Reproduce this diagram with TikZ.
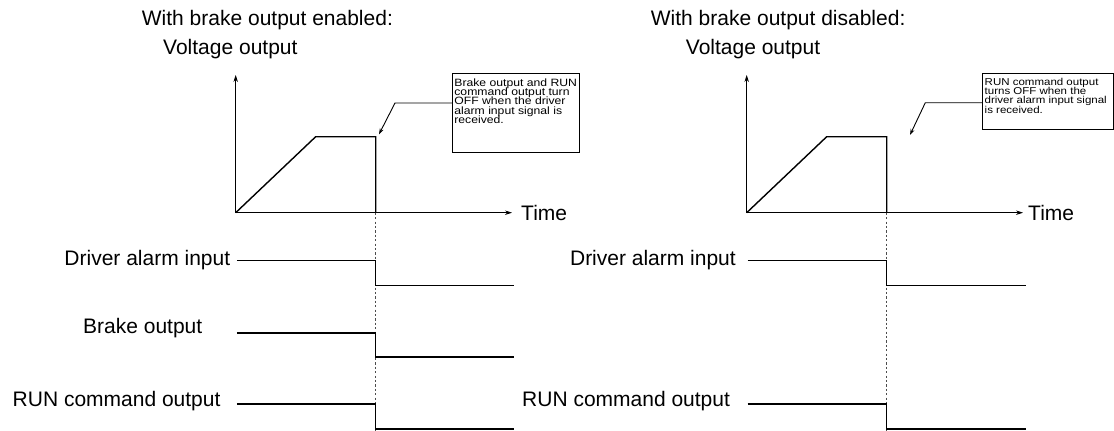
\documentclass[tikz,border=0pt]{standalone}
\usepackage{fontspec}
\setmainfont{Liberation Sans}
\newfontfamily\notefont[FakeStretch=1.15]{Liberation Sans}
\usetikzlibrary{arrows.meta}

\begin{document}
\begin{tikzpicture}[x=1pt, y=-1pt,
    lbl/.style={font=\fontsize{21}{25}\selectfont, inner sep=0pt},
    axis/.style={line width=0.9pt, -{Stealth[length=7pt, width=4.5pt]}},
    curve/.style={line width=1.4pt, line join=miter},
    sig/.style={line width=1.3pt},
    cutline/.style={line width=0.7pt, black!70, dash pattern=on 2.2pt off 2.2pt},
    note/.style={draw, line width=0.8pt, inner xsep=2pt, inner ysep=4pt, anchor=north west},
    leader/.style={line width=0.9pt, -{Stealth[length=6pt, width=4pt]}}]
    \useasboundingbox (0,0) rectangle (1114,431);

    % left: with brake output enabled
    \node[lbl, anchor=base west] (titleA) at (141.7,25.5) {With brake output enabled:};
    \node[lbl, anchor=base west] (voltA) at (163,54) {Voltage output};
    \draw[axis] (235.7,212.7) -- (235.7,75);
    \draw[axis] (235.7,212.7) -- (512,212.7);
    \node[lbl, anchor=base west] (timeA) at (521,220) {Time};
    \draw[curve] (235.7,212.7) -- (315.7,136.7) -- (375.7,136.7) -- (375.7,212.7);
    \draw[cutline] (375.7,212.7) -- (375.7,431);
    \node[note] (noteA) at (452,73) {\parbox[t][70.7pt][t]{123pt}{\vspace*{1.5pt}\raggedright
      \notefont\fontsize{10.6}{9.2}\selectfont\lineskiplimit=-20pt
      \mbox{Brake output and RUN}\\ \mbox{command output turn}\\ \mbox{OFF when the driver}\\ \mbox{alarm input signal is}\\ received.}};
    \coordinate (hitA) at (379,134.3);
    \draw[leader] ([yshift=-30pt]noteA.north west) -- ++(-57,0) -- (hitA);

    \node[lbl, anchor=base east] (drvA) at (230.4,265.3) {Driver alarm input};
    \draw[sig] (236.8,260.4) -- (375.7,260.4) -- (375.7,285.7) -- (514,285.7);
    \node[lbl, anchor=base west] (brkA) at (83,333.6) {Brake output};
    \draw[sig] (236.8,332.9) -- (375.7,332.9) -- (375.7,357) -- (514,357);
    \node[lbl, anchor=base west] (runA) at (12.5,406.8) {RUN command output};
    \draw[sig] (236.8,404) -- (375.7,404) -- (375.7,429) -- (514,429);

    % right: with brake output disabled
    \node[lbl, anchor=base west] (titleB) at (650.7,25.5) {With brake output disabled:};
    \node[lbl, anchor=base west] (voltB) at (685.7,54) {Voltage output};
    \draw[axis] (746.7,212.7) -- (746.7,75);
    \draw[axis] (746.7,212.7) -- (1023,212.7);
    \node[lbl, anchor=base west] (timeB) at (1028,220) {Time};
    \draw[curve] (746.7,212.7) -- (826.7,136.7) -- (886.7,136.7) -- (886.7,212.7);
    \draw[cutline] (886.7,212.7) -- (886.7,431);
    \node[note] (noteB) at (982.3,72.5) {\parbox[t][48.8pt][t]{126.5pt}{\vspace*{1pt}\raggedright
      \notefont\fontsize{10}{9.3}\selectfont\lineskiplimit=-20pt
      \mbox{RUN command output}\\ \mbox{turns OFF when the}\\ \mbox{driver alarm input signal}\\ is received.}};
    \coordinate (hitB) at (910,135);
    \draw[leader] ([yshift=-30.2pt]noteB.north west) -- ++(-57,0) -- (hitB);

    \node[lbl, anchor=base east] (drvB) at (736,265.3) {Driver alarm input};
    \draw[sig] (747.5,260.4) -- (886.7,260.4) -- (886.7,285.7) -- (1025.7,285.7);
    \node[lbl, anchor=base west] (runB) at (522,406.8) {RUN command output};
    \draw[sig] (747.5,404) -- (886.7,404) -- (886.7,429) -- (1025.7,429);
\end{tikzpicture}
\end{document}
